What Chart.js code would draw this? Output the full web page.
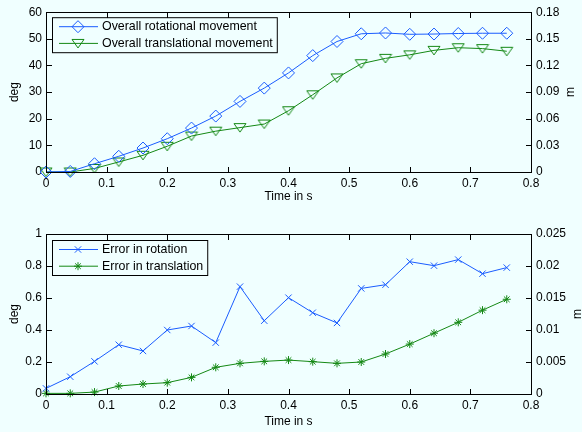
<!DOCTYPE html>
<html>
<head>
<meta charset="UTF-8">
<title>Overall movement and error</title>
<script src="https://cdn.jsdelivr.net/npm/chart.js"></script>
<style>
  body { margin: 0; background: #f0ffff; }
  .panel { position: absolute; left: 0; width: 582px; height: 216px; }
</style>
</head>
<body>
<div class="panel" style="top:0"><canvas id="moveChart" width="582" height="216"></canvas></div>
<div class="panel" style="top:216px"><canvas id="errChart" width="582" height="216"></canvas></div>

<script>
// time samples (s)
const time = [0, 0.04, 0.08, 0.12, 0.16, 0.2, 0.24, 0.28, 0.32, 0.36,
              0.4, 0.44, 0.48, 0.52, 0.56, 0.6, 0.64, 0.68, 0.72, 0.76];

// top panel: rotation in deg (left axis), translation in m (right axis)
const rotationDeg = [0, 0.2, 3.1, 5.9, 9.0, 12.5, 16.5, 21.0, 26.5, 31.5,
                     37.2, 43.7, 49.0, 51.9, 52.2, 51.7, 51.8, 52.0, 52.1, 52.1];
const translationM = [0, 0, 0.004, 0.0113, 0.0188, 0.029, 0.0405, 0.046, 0.050, 0.054,
                      0.069, 0.087, 0.106, 0.122, 0.128, 0.132, 0.137, 0.140, 0.139, 0.136];

// bottom panel: errors
const rotErrDeg = [0.035, 0.108, 0.204, 0.308, 0.269, 0.400, 0.425, 0.321, 0.671, 0.458,
                   0.602, 0.508, 0.444, 0.660, 0.683, 0.827, 0.802, 0.840, 0.752, 0.790];
const transErrM = [0.0001, 0.0001, 0.0003, 0.00125, 0.00156, 0.00177, 0.0026, 0.00417, 0.00479, 0.0051,
                   0.0053, 0.00505, 0.00479, 0.0050, 0.00625, 0.0078, 0.0095, 0.0112, 0.0131, 0.0148];

// tick labels
const xTicks = [0, 0.1, 0.2, 0.3, 0.4, 0.5, 0.6, 0.7, 0.8];
const moveDegTicks = [0, 10, 20, 30, 40, 50, 60];
const moveMTicks = [0, 0.03, 0.06, 0.09, 0.12, 0.15, 0.18];
const errDegTicks = [0, 0.2, 0.4, 0.6, 0.8, 1];
const errMTicks = [0, 0.005, 0.01, 0.015, 0.02, 0.025];

const blue = '#1a5cff';
const green = '#148814';
const fontFamily = '"Liberation Sans", Arial, Helvetica, sans-serif';

// MATLAB style 'v' marker, centred on its bounding box
const triangleDown = (() => {
    const c = document.createElement('canvas');
    c.width = 14; c.height = 11;
    const g = c.getContext('2d');
    g.strokeStyle = green;
    g.lineWidth = 1;
    g.beginPath();
    g.moveTo(1, 1.5); g.lineTo(13, 1.5); g.lineTo(7, 10); g.closePath();
    g.stroke();
    return c;
})();

function pts(ys) {
    return time.map((t, i) => ({ x: t, y: ys[i] }));
}

function series(label, ys, axis, color, style, radius) {
    return {
        label: label,
        data: pts(ys),
        yAxisID: axis,
        borderColor: color,
        backgroundColor: 'rgba(0,0,0,0)',
        borderWidth: 1,
        pointStyle: style,
        pointRadius: radius,
        pointHoverRadius: radius,
        pointBorderColor: color,
        pointBackgroundColor: 'rgba(0,0,0,0)',
        pointBorderWidth: 1,
        tension: 0,
        clip: false
    };
}

// box and inward ticks, drawn as 1px fills
function drawFrame(chart) {
    const { ctx, chartArea: a, scales } = chart;
    const L = Math.round(a.left), R = Math.round(a.right);
    const T = Math.round(a.top), B = Math.round(a.bottom);
    ctx.save();
    ctx.fillStyle = '#000';
    ctx.fillRect(L, T, R - L + 1, 1);
    ctx.fillRect(L, B, R - L + 1, 1);
    ctx.fillRect(L, T, 1, B - T + 1);
    ctx.fillRect(R, T, 1, B - T + 1);
    scales.x.ticks.forEach(t => {
        const px = Math.round(scales.x.getPixelForValue(t.value));
        ctx.fillRect(px, B - 5, 1, 5);
        ctx.fillRect(px, T + 1, 1, 5);
    });
    scales.y.ticks.forEach(t => {
        const py = Math.round(scales.y.getPixelForValue(t.value));
        ctx.fillRect(L + 1, py, 5, 1);
    });
    scales.y1.ticks.forEach(t => {
        const py = Math.round(scales.y1.getPixelForValue(t.value));
        ctx.fillRect(R - 5, py, 5, 1);
    });
    ctx.restore();
}

// axis titles, legend and frame like the MATLAB figure
const matlabFrame = {
    id: 'matlabFrame',
    afterDraw(chart, args, opts) {
        const { ctx, chartArea: a } = chart;
        const midY = (a.top + a.bottom) / 2;
        ctx.save();
        ctx.fillStyle = '#000';
        ctx.font = '12px ' + fontFamily;
        ctx.textAlign = 'center';
        ctx.textBaseline = 'middle';
        ctx.fillText(opts.xTitle, (a.left + a.right) / 2, opts.xTitleY);
        [[opts.leftTitle, opts.leftX], [opts.rightTitle, opts.rightX]].forEach(([txt, x]) => {
            ctx.save();
            ctx.translate(x, midY);
            ctx.rotate(-Math.PI / 2);
            ctx.fillText(txt, 0, 0);
            ctx.restore();
        });

        // legend
        const sets = chart.data.datasets;
        ctx.font = '12.4px ' + fontFamily;
        const textW = Math.max(...sets.map(d => ctx.measureText(d.label).width));
        const bx = a.left + 6, by = a.top + opts.legendTop;
        const bw = 50 + textW + 4, bh = 35;
        ctx.fillStyle = '#f0ffff';
        ctx.fillRect(bx, by, bw, bh);
        ctx.strokeStyle = '#000';
        ctx.lineWidth = 1;
        ctx.strokeRect(bx + 0.5, by + 0.5, bw, bh);
        sets.forEach((d, i) => {
            const ry = by + 9.5 + i * 16.7;
            ctx.strokeStyle = d.borderColor;
            ctx.beginPath();
            ctx.moveTo(bx + 7, ry); ctx.lineTo(bx + 46, ry);
            ctx.stroke();
            ctx.fillStyle = 'rgba(0,0,0,0)';
            Chart.helpers.drawPoint(ctx, {
                pointStyle: d.pointStyle, radius: d.pointRadius,
                borderWidth: 1, rotation: 0
            }, bx + 26, ry);
            ctx.fillStyle = '#000';
            ctx.textAlign = 'left';
            ctx.fillText(d.label, bx + 50, ry);
        });
        ctx.restore();

        drawFrame(chart);
    }
};

function makeChart(id, datasets, degTicks, mTicks, frame, topPad, xHeight) {
    const tickFont = { family: fontFamily, size: 12 };
    const fixed = arr => s => { s.ticks = arr.map(v => ({ value: v })); };
    const edge = { display: true, color: '#000', width: 1 };
    const yAxis = (pos, arr, width, pad) => ({
        type: 'linear',
        position: pos,
        min: arr[0],
        max: arr[arr.length - 1],
        afterBuildTicks: fixed(arr),
        afterFit: s => { s.width = width; },
        grid: { display: false, drawTicks: false },
        border: edge,
        ticks: { color: '#000', font: tickFont, padding: pad, autoSkip: false, callback: v => String(v) }
    });
    return new Chart(document.getElementById(id), {
        type: 'line',
        data: { datasets: datasets },
        options: {
            responsive: false,
            animation: false,
            events: [],
            layout: { padding: { top: topPad, left: 0, right: 0, bottom: 0 } },
            scales: {
                x: {
                    type: 'linear',
                    min: 0,
                    max: 0.8,
                    afterBuildTicks: fixed(xTicks),
                    afterFit: s => { s.height = xHeight; },
                    grid: { display: false, drawTicks: false },
                    border: edge,
                    ticks: { color: '#000', font: tickFont, padding: 4, autoSkip: false, maxRotation: 0, callback: v => String(v) }
                },
                y: yAxis('left', degTicks, 46, 4),
                y1: yAxis('right', mTicks, 51, 5)
            },
            plugins: {
                legend: { display: false },
                tooltip: { enabled: false },
                matlabFrame: frame
            }
        },
        plugins: [matlabFrame]
    });
}

makeChart('moveChart', [
    series('Overall rotational movement', rotationDeg, 'y', blue, 'rectRot', 6),
    series('Overall translational movement', translationM, 'y1', green, triangleDown, 6)
], moveDegTicks, moveMTicks, {
    xTitle: 'Time in s', xTitleY: 197, leftTitle: 'deg', leftX: 15,
    rightTitle: 'm', rightX: 571, legendTop: 5
}, 12, 44);

makeChart('errChart', [
    series('Error in rotation', rotErrDeg, 'y', blue, 'crossRot', 4.5),
    series('Error in translation', transErrM, 'y1', green, 'star', 4)
], errDegTicks, errMTicks, {
    xTitle: 'Time in s', xTitleY: 205.5, leftTitle: 'deg', leftX: 15,
    rightTitle: 'm', rightX: 578, legendTop: 6
}, 18, 38);
</script>
</body>
</html>
